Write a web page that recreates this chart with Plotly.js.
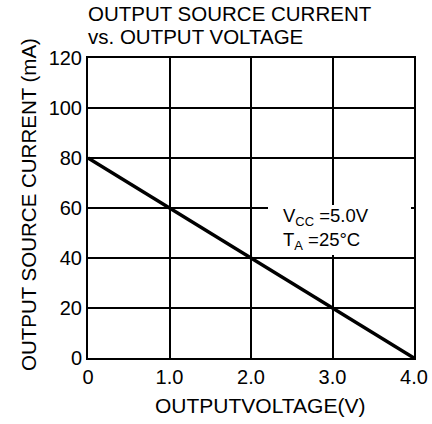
<!DOCTYPE html>
<html><head><meta charset="utf-8">
<script src="https://cdn.plot.ly/plotly-3.0.1.min.js"></script>
<style>html,body{margin:0;padding:0;background:#fff}</style>
</head><body>
<div id="chart" style="width:432px;height:424px"></div>
<script>
const voltage = [0, 1, 2, 3, 4];
const current = [80, 60, 40, 20, 0];
const xTickVals = [0, 1, 2, 3, 4];
const xTickText = ["0", "1.0", "2.0", "3.0", "4.0"];
const yTickVals = [0, 20, 40, 60, 80, 100, 120];

const F = "Liberation Sans, Arial, Helvetica, sans-serif";
const L = 88, R = 18, T = 58, B = 66;
const W = 432 - L - R, H = 424 - T - B;
const px = v => (v - L) / W;          // pixel x -> paper x
const py = v => (424 - B - v) / H;    // pixel y -> paper y

Plotly.newPlot("chart", [{
  x: voltage, y: current, type: "scatter", mode: "lines",
  line: {color: "#000", width: 3.5}, hoverinfo: "skip", showlegend: false
}], {
  width: 432, height: 424,
  margin: {l: L, r: R, t: T, b: B, pad: 0},
  paper_bgcolor: "#fff", plot_bgcolor: "#fff",
  font: {family: F, color: "#000", size: 20},
  xaxis: {
    range: [0, 4], tickvals: xTickVals, ticktext: xTickText,
    showgrid: true, gridcolor: "#000", gridwidth: 2,
    showline: true, linecolor: "#000", linewidth: 2, mirror: true,
    zeroline: false, ticks: "", ticklen: 0,
    tickfont: {size: 20, family: F}
  },
  yaxis: {
    range: [0, 120], tickvals: yTickVals,
    showgrid: true, gridcolor: "#000", gridwidth: 2,
    showline: true, linecolor: "#000", linewidth: 2, mirror: true,
    zeroline: false, ticks: "", ticklen: 0,
    tickfont: {size: 20, family: F}
  },
  shapes: [
    {type: "rect", xref: "paper", yref: "paper", layer: "above",
     x0: px(268), x1: px(411), y0: py(255), y1: py(205),
     fillcolor: "#fff", line: {width: 0}}
  ],
  annotations: [
    {text: "OUTPUT SOURCE CURRENT", xref: "paper", yref: "paper",
     x: px(86), y: py(13), xanchor: "left", yanchor: "middle",
     showarrow: false, font: {size: 20.5, family: F}},
    {text: "vs. OUTPUT VOLTAGE", xref: "paper", yref: "paper",
     x: px(86), y: py(36.5), xanchor: "left", yanchor: "middle",
     showarrow: false, font: {size: 20.5, family: F}},
    {text: "OUTPUT SOURCE CURRENT (mA)", xref: "paper", yref: "paper",
     x: px(28), y: py(205), xanchor: "center", yanchor: "middle",
     textangle: -90, showarrow: false, font: {size: 20.5, family: F}},
    {text: "OUTPUTVOLTAGE(V)", xref: "paper", yref: "paper",
     x: px(259.5), y: py(405), xanchor: "center", yanchor: "middle",
     showarrow: false, font: {size: 21, family: F}},
    {text: "V<sub>CC</sub> =5.0V<br>T<sub>A</sub> =25°C", xref: "paper", yref: "paper",
     x: px(281), y: py(229), xanchor: "left", yanchor: "middle",
     align: "left", showarrow: false, font: {size: 18.5, family: F}}
  ]
}, {displayModeBar: false, staticPlot: true});
</script>
</body></html>
